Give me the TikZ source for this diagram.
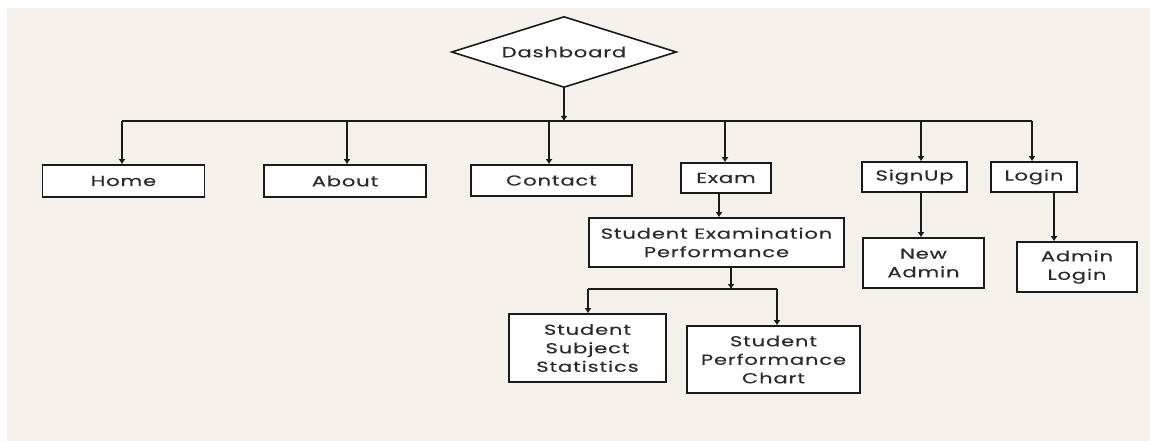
\documentclass[tikz,border=0pt]{standalone}
\usepackage{fontspec}
\setmainfont{Poppins}[FakeStretch=1.45,LetterSpace=6,FakeBold=0.3]
\usetikzlibrary{arrows.meta,shapes.geometric}
\definecolor{bg}{HTML}{F6F1EA}
\definecolor{ink}{HTML}{1A1A1A}
\definecolor{txt}{HTML}{2A2A2A}
\tikzset{
  box/.style={draw=ink, line width=1.6pt, fill=white, rectangle, inner sep=0pt, align=center,
    font=\fontsize{14.5}{18.5}\selectfont, text=txt},
  link/.style={draw=ink, line width=1.6pt},
  arr/.style={link, -{Latex[length=5pt,width=7pt]}},
}
\begin{document}
\begin{tikzpicture}[x=1pt,y=-1pt]
\useasboundingbox (0,0) rectangle (1150,441);
\fill[white] (0,0) rectangle (1150,441);
\fill[bg] (7,8) rectangle (1150,441);
\node[box, diamond, aspect=3.17, minimum width=225pt, minimum height=71pt] (dash) at (564,52) {Dashboard};
\node[box, minimum width=162pt, minimum height=32pt] (home) at (123.5,181) {Home};
\node[box, minimum width=162pt, minimum height=32pt] (about) at (345,181) {About};
\node[box, minimum width=161pt, minimum height=31pt] (contact) at (551.5,180.5) {Contact};
\node[box, minimum width=90pt, minimum height=30pt] (exam) at (726,178) {Exam};
\node[box, minimum width=255pt, minimum height=49pt] (sep) at (716.5,242.5) {Student Examination\\Performance};
\node[box, minimum width=105pt, minimum height=30pt] (signup) at (914.5,177) {SignUp};
\node[box, minimum width=86pt, minimum height=30pt] (login) at (1034,177) {Login};
\node[box, minimum width=121pt, minimum height=50pt] (newadmin) at (923.5,263) {New\\Admin};
\node[box, minimum width=120pt, minimum height=50pt] (adminlogin) at (1077,267) {Admin\\Login};
\node[box, minimum width=157pt, minimum height=68pt] (sss) at (587.5,348) {Student\\Subject\\Statistics};
\node[box, minimum width=173pt, minimum height=67pt] (spc) at (773.5,359.5) {Student\\Performance\\Chart};
% top bus
\coordinate (bhome) at (122,121);
\coordinate (babout) at (347,121);
\coordinate (bcontact) at (549,121);
\coordinate (bdash) at (564,121);
\coordinate (bexam) at (725,121);
\coordinate (bsign) at (921,121);
\coordinate (blogin) at (1032,121);
\draw[arr] (dash.south) -- (bdash);
\draw[link] (bhome) -- (blogin);
\draw[arr] (bhome) -- (bhome |- home.north);
\draw[arr] (babout) -- (babout |- about.north);
\draw[arr] (bcontact) -- (bcontact |- contact.north);
\draw[arr] (bexam) -- (bexam |- exam.north);
\draw[arr] (bsign) -- (bsign |- signup.north);
\draw[arr] (blogin) -- (blogin |- login.north);
% exam to sep
\coordinate (ex) at (719,0);
\draw[arr] (ex |- exam.south) -- (ex |- sep.north);
% signup/login children
\draw[arr] (bsign |- signup.south) -- (bsign |- newadmin.north);
\coordinate (lg) at (1054,0);
\draw[arr] (lg |- login.south) -- (lg |- adminlogin.north);
% sep bus
\coordinate (sj) at (731,289);
\coordinate (sl) at (588,289);
\coordinate (sr) at (777,289);
\draw[arr] (sj |- sep.south) -- (sj);
\draw[link] (sl) -- (sr);
\draw[arr] (sl) -- (sl |- sss.north);
\draw[arr] (sr) -- (sr |- spc.north);
\end{tikzpicture}
\end{document}
